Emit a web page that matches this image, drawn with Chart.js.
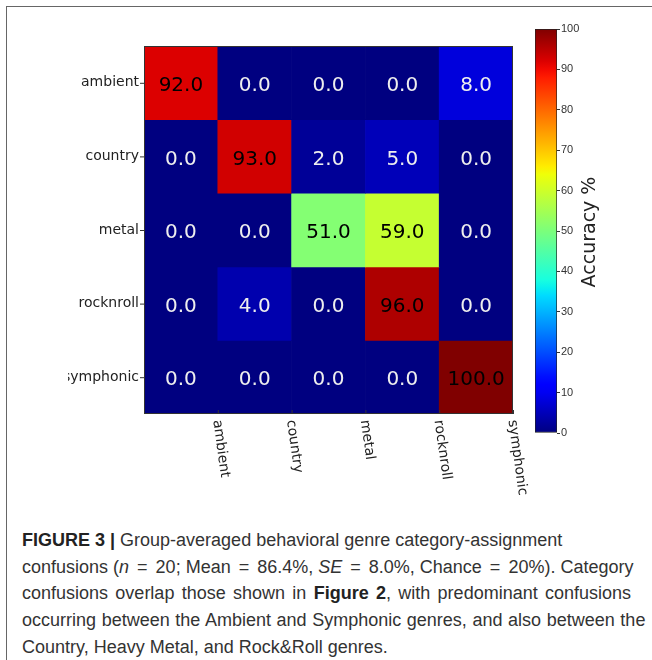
<!DOCTYPE html>
<html>
<head>
<meta charset="utf-8">
<script src="https://cdn.jsdelivr.net/npm/chart.js@4.4.1/dist/chart.umd.min.js"></script>
<style>
  html, body { margin: 0; padding: 0; background: #fff; width: 652px; height: 660px; overflow: hidden; }
  .frame { position: absolute; left: 6px; top: 6px; width: 700px; height: 700px;
           border-left: 1.5px solid #666; border-top: 1.5px solid #666; }
  #heat { position: absolute; left: 0; top: 0; }
  #bar { position: absolute; left: 520px; top: 0; }
  .caption { position: absolute; left: 22px; top: 527px; font-family: "Liberation Sans", Arial, sans-serif;
             font-size: 18px; line-height: 26.7px; color: #333; white-space: nowrap; }
  .caption b { color: #222; }
  .caption .eq { margin: 0 3px; }
</style>
</head>
<body>
<div class="frame"></div>
<canvas id="heat" width="652" height="500"></canvas>
<canvas id="bar" width="132" height="460"></canvas>
<div class="caption">
  <div><b>FIGURE 3 |</b> Group-averaged behavioral genre category-assignment</div>
  <div>confusions (<i>n</i> <span class="eq">=</span> 20; Mean <span class="eq">=</span> 86.4%, <i>SE</i> <span class="eq">=</span> 8.0%, Chance <span class="eq">=</span> 20%). Category</div>
  <div style="word-spacing: 2.3px">confusions overlap those shown in <b>Figure 2</b>, with predominant confusions</div>
  <div style="word-spacing: 0.6px">occurring between the Ambient and Symphonic genres, and also between the</div>
  <div>Country, Heavy Metal, and Rock&amp;Roll genres.</div>
</div>
<script>
  // Confusion matrix (rows = presented genre, columns = assigned genre)
  const genres = ['ambient', 'country', 'metal', 'rocknroll', 'symphonic'];
  const accuracy = [
    [92, 0, 0, 0, 8],
    [0, 93, 2, 5, 0],
    [0, 0, 51, 59, 0],
    [0, 4, 0, 96, 0],
    [0, 0, 0, 0, 100],
  ];
  const colorbarRange = [0, 100];
  const colorbarStep = 10;

  // matplotlib "jet" colormap
  const JET = {
    r: [[0, 0], [0.35, 0], [0.66, 1], [0.89, 1], [1, 0.5]],
    g: [[0, 0], [0.125, 0], [0.375, 1], [0.64, 1], [0.91, 0], [1, 0]],
    b: [[0, 0.5], [0.11, 1], [0.34, 1], [0.65, 0], [1, 0]],
  };
  function interp(pts, t) {
    for (let i = 1; i < pts.length; i++) {
      if (t <= pts[i][0]) {
        const [x0, y0] = pts[i - 1], [x1, y1] = pts[i];
        return y0 + (y1 - y0) * (t - x0) / (x1 - x0);
      }
    }
    return pts[pts.length - 1][1];
  }
  function jet(v) {
    const t = Math.min(1, Math.max(0, v / 100));
    const c = k => Math.round(255 * interp(JET[k], t));
    return `rgb(${c('r')}, ${c('g')}, ${c('b')})`;
  }

  const labelFont = '14px "DejaVu Sans", sans-serif';

  const heatLabels = {
    id: 'heatLabels',
    afterDraw(chart) {
      const { ctx, chartArea: a, scales: { x, y } } = chart;
      const cellW = (a.right - a.left) / genres.length;
      ctx.save();

      // cell annotations
      ctx.font = '20px "DejaVu Sans", sans-serif';
      ctx.textAlign = 'center';
      ctx.textBaseline = 'middle';
      accuracy.forEach((row, i) => row.forEach((v, j) => {
        ctx.fillStyle = v > 40 ? '#000' : '#eee';
        ctx.fillText(v.toFixed(1), x.getPixelForValue(j), y.getPixelForValue(i + 0.5) + 3);
      }));

      // frame
      ctx.strokeStyle = '#333';
      ctx.lineWidth = 1;
      ctx.strokeRect(a.left + 0.5, a.top + 0.5, a.right - a.left - 1, a.bottom - a.top - 1);

      // y labels (left) with ticks
      ctx.fillStyle = '#222';
      ctx.font = labelFont;
      ctx.textAlign = 'right';
      ctx.save();
      ctx.beginPath();
      ctx.rect(68, 0, a.left, chart.height);
      ctx.clip();
      genres.forEach((g, i) => {
        const py = y.getPixelForValue(i + 0.5);
        ctx.fillText(g, a.left - 5, py);
        ctx.beginPath();
        ctx.moveTo(a.left - 4, py + 0.5);
        ctx.lineTo(a.left, py + 0.5);
        ctx.stroke();
      });
      ctx.restore();

      // x labels, placed at the right edge of each column, rotated downwards
      ctx.textAlign = 'left';
      ctx.textBaseline = 'middle';
      genres.forEach((g, j) => {
        const px = x.getPixelForValue(j) + cellW / 2;
        ctx.beginPath();
        ctx.moveTo(px + 0.5, a.bottom - 4);
        ctx.lineTo(px + 0.5, a.bottom);
        ctx.stroke();
        ctx.save();
        ctx.translate(px - 1, a.bottom + 6);
        ctx.rotate(82 * Math.PI / 180);
        ctx.fillText(g, 0, 0);
        ctx.restore();
      });
      ctx.restore();
    }
  };

  new Chart(document.getElementById('heat'), {
    type: 'bar',
    data: {
      labels: genres,
      datasets: accuracy.map((row, i) => ({
        label: genres[i],
        data: genres.map(() => [i, i + 1]),
        backgroundColor: row.map(jet),
        borderWidth: 0,
        barPercentage: 1,
        categoryPercentage: 1,
      })),
    },
    options: {
      responsive: false,
      animation: false,
      layout: { padding: { left: 144, top: 46, right: 139, bottom: 86 } },
      plugins: { legend: { display: false }, tooltip: { enabled: false } },
      scales: {
        x: { display: false, stacked: true },
        y: { display: false, min: 0, max: genres.length, reverse: true },
      },
    },
    plugins: [heatLabels],
  });

  // colorbar
  const barTitle = {
    id: 'barTitle',
    afterDraw(chart) {
      const { ctx, chartArea: a } = chart;
      ctx.save();
      ctx.translate(70, (a.top + a.bottom) / 2 + 1);
      ctx.rotate(-Math.PI / 2);
      ctx.font = '19px "DejaVu Sans", sans-serif';
      ctx.fillStyle = '#222';
      ctx.textAlign = 'center';
      ctx.textBaseline = 'middle';
      ctx.fillText('Accuracy %', 0, 0);
      ctx.restore();
    }
  };

  new Chart(document.getElementById('bar'), {
    type: 'bar',
    data: {
      labels: [''],
      datasets: [{
        data: [colorbarRange],
        backgroundColor(context) {
          const { ctx, chartArea } = context.chart;
          if (!chartArea) return null;
          const grad = ctx.createLinearGradient(0, chartArea.bottom, 0, chartArea.top);
          for (let k = 0; k <= 50; k++) grad.addColorStop(k / 50, jet(k * 2));
          return grad;
        },
        borderColor: '#222',
        borderWidth: 1,
        borderSkipped: false,
        barPercentage: 1,
        categoryPercentage: 1,
      }],
    },
    options: {
      responsive: false,
      animation: false,
      layout: { padding: { left: 15, top: 29, right: 0, bottom: 27 } },
      plugins: { legend: { display: false }, tooltip: { enabled: false } },
      scales: {
        x: { display: false },
        y: {
          position: 'right',
          min: colorbarRange[0],
          max: colorbarRange[1],
          afterFit(scale) { scale.width = 95; },
          ticks: { stepSize: colorbarStep, color: '#333', padding: 1,
                   font: { family: '"Liberation Sans", sans-serif', size: 11 } },
          grid: { drawOnChartArea: false, tickLength: 3, color: '#333' },
          border: { display: false },
        },
      },
    },
    plugins: [barTitle],
  });
</script>
</body>
</html>
